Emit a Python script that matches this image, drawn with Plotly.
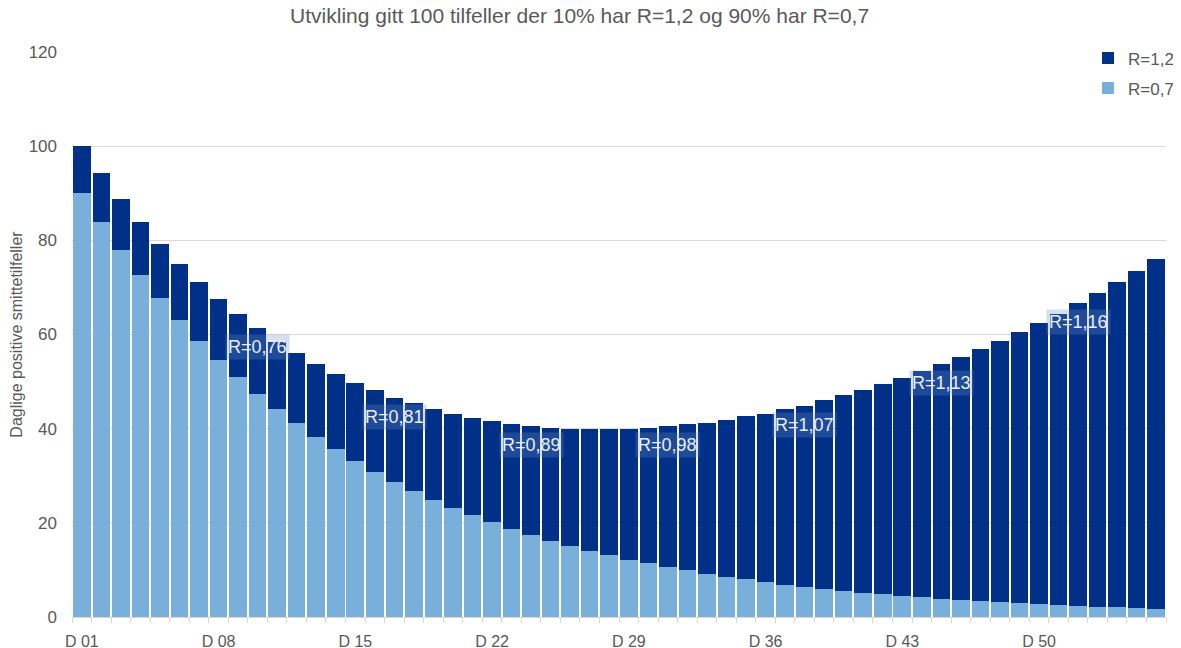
import plotly.graph_objects as go

days = [f"D {i:02d}" for i in range(1, 57)]

r07 = [90.0, 83.8, 78.0, 72.7, 67.7, 63.0, 58.7, 54.6, 50.9, 47.4, 44.1, 41.1, 38.2, 35.6,
       33.1, 30.9, 28.7, 26.8, 24.9, 23.2, 21.6, 20.1, 18.7, 17.4, 16.2, 15.1, 14.1, 13.1,
       12.2, 11.4, 10.6, 9.9, 9.2, 8.6, 8.0, 7.4, 6.9, 6.4, 6.0, 5.6, 5.2, 4.8, 4.5, 4.2,
       3.9, 3.6, 3.4, 3.2, 2.9, 2.7, 2.5, 2.4, 2.2, 2.1, 1.9, 1.8]
r12 = [10.0, 10.4, 10.8, 11.2, 11.6, 12.0, 12.5, 12.9, 13.4, 13.9, 14.4, 14.9, 15.5, 16.1,
       16.7, 17.3, 17.9, 18.6, 19.3, 20.0, 20.7, 21.5, 22.3, 23.1, 24.0, 24.9, 25.8, 26.8,
       27.8, 28.8, 29.9, 31.0, 32.1, 33.3, 34.6, 35.8, 37.2, 38.5, 40.0, 41.5, 43.0, 44.6,
       46.3, 48.0, 49.8, 51.6, 53.5, 55.5, 57.6, 59.7, 61.9, 64.2, 66.6, 69.1, 71.6, 74.3]

label_days = [10, 17, 24, 31, 38, 45, 52]
label_texts = ["R=0,76", "R=0,81", "R=0,89", "R=0,98", "R=1,07", "R=1,13", "R=1,16"]

tick_every = 7

pos = list(range(1, len(days) + 1))
totals = [a + b for a, b in zip(r07, r12)]

DARK = "#003087"
LIGHT = "#78B0DB"
GREY = "#595959"
GRID = "#D9D9D9"
FONT = "Liberation Sans, Arial, sans-serif"

fig = go.Figure()
fig.add_trace(go.Bar(x=pos, y=r07, name="R=0,7", marker_color=LIGHT,
                     marker_line_width=0, legendgroup="a", legendrank=2))
fig.add_trace(go.Bar(x=pos, y=r12, name="R=1,2", marker_color=DARK,
                     marker_line_width=0, legendgroup="b", legendrank=1))

for d, t in zip(label_days, label_texts):
    fig.add_annotation(x=d, y=totals[d - 1], text=t, showarrow=False, yshift=-19,
                       font=dict(family=FONT, size=18, color="#E8EEF7"),
                       bgcolor="rgba(110,145,200,0.28)", borderpad=2)

tv = pos[::tick_every]
tt = days[::tick_every]

fig.update_layout(
    width=1181, height=648,
    margin=dict(l=64, r=23, t=44, b=39, autoexpand=False),
    paper_bgcolor="white", plot_bgcolor="white",
    barmode="stack", bargap=0.1,
    font=dict(family=FONT, color=GREY),
    title=dict(text="Utvikling gitt 100 tilfeller der 10% har R=1,2 og 90% har R=0,7",
               x=0.484, xanchor="center", y=0.999, yanchor="top",
               font=dict(size=21, color=GREY)),
    legend=dict(xref="container", yref="container", x=0.9145, y=0.95,
                xanchor="left", yanchor="top", bgcolor="white",
                traceorder="grouped", tracegroupgap=5,
                font=dict(size=17, color=GREY)),
    xaxis=dict(range=[0.5, len(days) + 0.5], tickvals=tv, ticktext=tt,
               ticks="", showgrid=False, zeroline=False,
               showline=True, linecolor=GRID, linewidth=1,
               tickfont=dict(size=16, color=GREY), ticklabelstandoff=10,
               minor=dict(ticks="outside", ticklen=5, tickcolor=GRID,
                          tick0=0.5, dtick=1, showgrid=False)),
    yaxis=dict(range=[0, 120], dtick=20, showgrid=True, gridcolor=GRID,
               zeroline=False, ticks="", tickfont=dict(size=17, color=GREY),
               ticklabelstandoff=14,
               title=dict(text="Daglige positive smittetilfeller", standoff=18,
                          font=dict(size=16, color=GREY))),
)

fig.write_html("out.html")
